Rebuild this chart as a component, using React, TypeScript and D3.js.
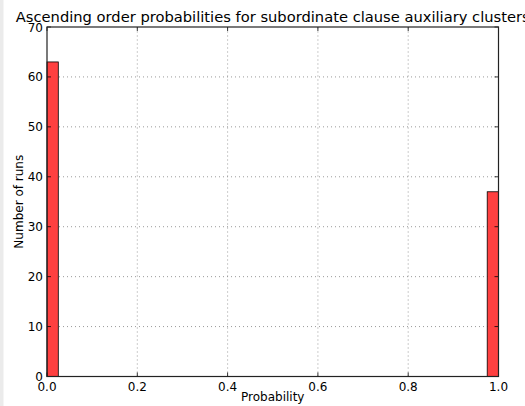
import { useEffect, useRef } from "react";
import * as d3 from "d3";

// histogram bins (width 0.025) that hold runs; all others are empty
const binStarts = [0.0, 0.975];
const binCounts = [63, 37];
const binWidth = 0.025;
const xTicks = [0, 0.2, 0.4, 0.6, 0.8, 1.0];
const yTicks = [0, 10, 20, 30, 40, 50, 60, 70];

const title = "Ascending order probabilities for subordinate clause auxiliary clusters";
const xLabel = "Probability";
const yLabel = "Number of runs";

const W = 525;
const H = 406;

const App = () => {
  const svgRef = useRef<SVGSVGElement>(null);

  useEffect(() => {
    const margin = { top: 27, right: 26.5, bottom: 29.5, left: 47 };
    const svg = d3.select(svgRef.current);
    svg.selectAll("*").remove();

    const x = d3.scaleLinear().domain([0, 1]).range([margin.left, W - margin.right]);
    const y = d3.scaleLinear().domain([0, 70]).range([H - margin.bottom, margin.top]);
    const font = "'DejaVu Sans', sans-serif";

    // light strip on the left edge
    svg.append("rect").attr("x", 0).attr("y", 0).attr("width", 3.5).attr("height", H).attr("fill", "#ebebeb");

    // dotted grid
    const grid = svg.append("g").attr("stroke", "#808080").attr("stroke-width", 0.8).attr("stroke-dasharray", "1,3");
    grid.selectAll("line.gx")
      .data(xTicks.slice(1, -1))
      .join("line")
      .attr("x1", (d) => x(d)).attr("x2", (d) => x(d))
      .attr("y1", y(0)).attr("y2", y(70));
    grid.selectAll("line.gy")
      .data(yTicks.slice(1, -1))
      .join("line")
      .attr("y1", (d) => y(d)).attr("y2", (d) => y(d))
      .attr("x1", x(0)).attr("x2", x(1));

    // bars
    svg.append("g")
      .selectAll("rect")
      .data(binStarts.map((s, i) => ({ s, c: binCounts[i] })))
      .join("rect")
      .attr("x", (d) => x(d.s))
      .attr("y", (d) => y(d.c))
      .attr("width", (d) => x(d.s + binWidth) - x(d.s))
      .attr("height", (d) => y(0) - y(d.c))
      .attr("fill", "#ff4040")
      .attr("stroke", "#000")
      .attr("stroke-width", 0.8);

    // ticks, inward on all four sides
    const ticks = svg.append("g").attr("stroke", "#000").attr("stroke-width", 0.8);
    xTicks.forEach((t) => {
      ticks.append("line").attr("x1", x(t)).attr("x2", x(t)).attr("y1", y(0)).attr("y2", y(0) - 4);
      ticks.append("line").attr("x1", x(t)).attr("x2", x(t)).attr("y1", y(70)).attr("y2", y(70) + 4);
    });
    yTicks.forEach((t) => {
      ticks.append("line").attr("y1", y(t)).attr("y2", y(t)).attr("x1", x(0)).attr("x2", x(0) + 4);
      ticks.append("line").attr("y1", y(t)).attr("y2", y(t)).attr("x1", x(1)).attr("x2", x(1) - 4);
    });

    // frame
    svg.append("rect")
      .attr("x", x(0)).attr("y", y(70))
      .attr("width", x(1) - x(0)).attr("height", y(0) - y(70))
      .attr("fill", "none").attr("stroke", "#222").attr("stroke-width", 1.2);

    // tick labels
    svg.append("g")
      .selectAll("text")
      .data(xTicks)
      .join("text")
      .attr("x", (d) => x(d))
      .attr("y", y(0) + 14)
      .attr("text-anchor", "middle")
      .attr("font-family", font).attr("font-size", 12).attr("fill", "#000")
      .text((d) => d3.format(".1f")(d));
    svg.append("g")
      .selectAll("text")
      .data(yTicks)
      .join("text")
      .attr("x", x(0) - 4)
      .attr("y", (d) => y(d) + 4.5)
      .attr("text-anchor", "end")
      .attr("font-family", font).attr("font-size", 12).attr("fill", "#000")
      .text((d) => String(d));

    // axis labels
    svg.append("text")
      .attr("x", (x(0) + x(1)) / 2).attr("y", 401)
      .attr("text-anchor", "middle")
      .attr("font-family", font).attr("font-size", 12).attr("fill", "#000")
      .text(xLabel);
    svg.append("text")
      .attr("transform", `translate(23,${(y(0) + y(70)) / 2}) rotate(-90)`)
      .attr("text-anchor", "middle")
      .attr("font-family", font).attr("font-size", 12).attr("fill", "#000")
      .text(yLabel);

    // title, centred on the axes and clipped by the right edge
    svg.append("text")
      .attr("x", (x(0) + x(1)) / 2).attr("y", 22)
      .attr("text-anchor", "middle")
      .attr("font-family", font).attr("font-size", 14.7).attr("fill", "#000")
      .text(title);
  }, []);

  return (
    <svg
      ref={svgRef}
      width={W}
      height={H}
      style={{ position: "absolute", left: 0, top: 0, background: "#fff" }}
    />
  );
};

export default App;
